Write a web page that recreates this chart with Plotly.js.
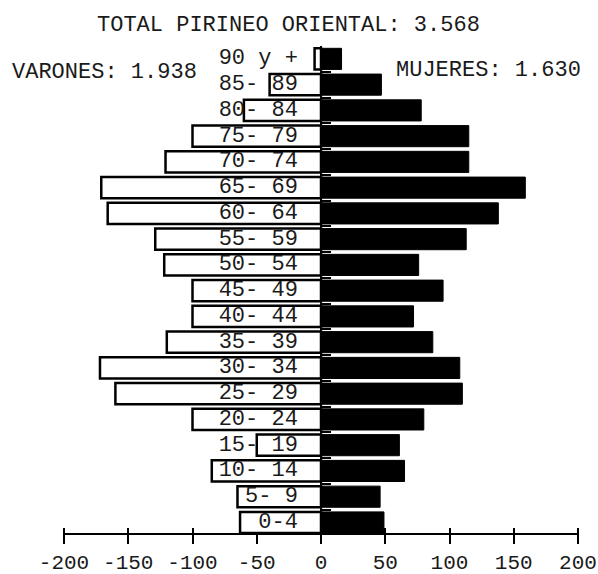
<!DOCTYPE html>
<html>
<head>
<meta charset="utf-8">
<script src="https://cdn.plot.ly/plotly-3.0.1.min.js"></script>
<style>html,body{margin:0;padding:0;background:#fff;}#chart{width:598px;height:574px;}</style>
</head>
<body>
<div id="chart"></div>
<script>
// Age groups, bottom to top
const ageGroups = ["0-4","5- 9","10- 14","15- 19","20- 24","25- 29","30- 34","35- 39","40- 44","45- 49","50- 54","55- 59","60- 64","65- 69","70- 74","75- 79","80- 84","85- 89","90 y +"];
const varones = [63,65,85,50,100,160,172,120,100,100,122,129,166,171,121,100,60,40,5];
const mujeres = [49,46,65,61,80,110,108,87,72,95,76,113,138,159,115,115,78,47,16];
const tickValues = [-200,-150,-100,-50,0,50,100,150,200];
const tickLabels = ["-200","-150","-100","-50","0","50","100","150","200"];
const titleText = "TOTAL PIRINEO ORIENTAL: 3.568";
const varonesText = "VARONES: 1.938";
const mujeresText = "MUJERES: 1.630";

const FONT = "Liberation Mono, DejaVu Sans Mono, monospace";
const FS = 22;
const TXT = "#1a1a1a";

const traces = [
  {
    type: "bar", orientation: "h", y: ageGroups, x: varones.map(v => -v),
    marker: {color: "#ffffff", line: {color: "#000000", width: 2.5}},
    hoverinfo: "skip", showlegend: false
  },
  {
    type: "bar", orientation: "h", y: ageGroups, x: mujeres,
    marker: {color: "#000000", line: {color: "#000000", width: 1}},
    hoverinfo: "skip", showlegend: false
  },
  {
    type: "scatter", mode: "text", xaxis: "x2", yaxis: "y",
    y: ageGroups, x: ageGroups.map(() => -18),
    text: ageGroups, textposition: "middle left",
    textfont: {family: FONT, size: FS, color: TXT},
    cliponaxis: false, hoverinfo: "skip", showlegend: false
  }
];

const layout = {
  width: 598, height: 574,
  margin: {l: 64, r: 20, t: 46, b: 41},
  paper_bgcolor: "#fff", plot_bgcolor: "#fff",
  barmode: "relative", bargap: 0.18,
  font: {family: FONT, size: FS, color: TXT},
  xaxis: {
    range: [-200, 200], fixedrange: true,
    tickmode: "array", tickvals: tickValues, ticktext: tickLabels,
    ticks: "outside", ticklen: 9, tickwidth: 2, tickcolor: "#000",
    showline: true, linecolor: "#000", linewidth: 2,
    showgrid: false, zeroline: true, zerolinecolor: "#000", zerolinewidth: 2,
    ticklabelstandoff: 0,
    tickfont: {family: FONT, size: 21, color: TXT}
  },
  xaxis2: {
    range: [-200, 200], fixedrange: true,
    overlaying: "x", anchor: "free", position: 0.0125, side: "bottom",
    ticks: "outside", ticklen: 15, tickwidth: 2, tickcolor: "#000",
    tickmode: "array", tickvals: tickValues,
    showticklabels: false, showline: false, showgrid: false, zeroline: false,
    layer: "below traces"
  },
  yaxis: {
    type: "category", categoryorder: "array", categoryarray: ageGroups,
    range: [-0.41, 18.5], fixedrange: true,
    anchor: "free", position: 0.5,
    showline: false, showgrid: false, zeroline: false,
    ticks: "inside", tickson: "boundaries", ticklen: 9, tickwidth: 2, tickcolor: "#000",
    showticklabels: false
  },
  annotations: [
    {xref: "paper", yref: "paper", x: 0.436, y: 1.042, xanchor: "center", yanchor: "middle",
     text: titleText, showarrow: false, font: {family: FONT, size: FS, color: TXT}},
    {xref: "paper", yref: "paper", x: -0.105, y: 0.9446, xanchor: "left", yanchor: "middle",
     text: varonesText, showarrow: false, font: {family: FONT, size: FS, color: TXT}},
    {xref: "paper", yref: "paper", x: 1.0097, y: 0.949, xanchor: "right", yanchor: "middle",
     text: mujeresText, showarrow: false, font: {family: FONT, size: FS, color: TXT}}
  ]
};

Plotly.newPlot("chart", traces, layout, {staticPlot: true, displayModeBar: false});
</script>
</body>
</html>
